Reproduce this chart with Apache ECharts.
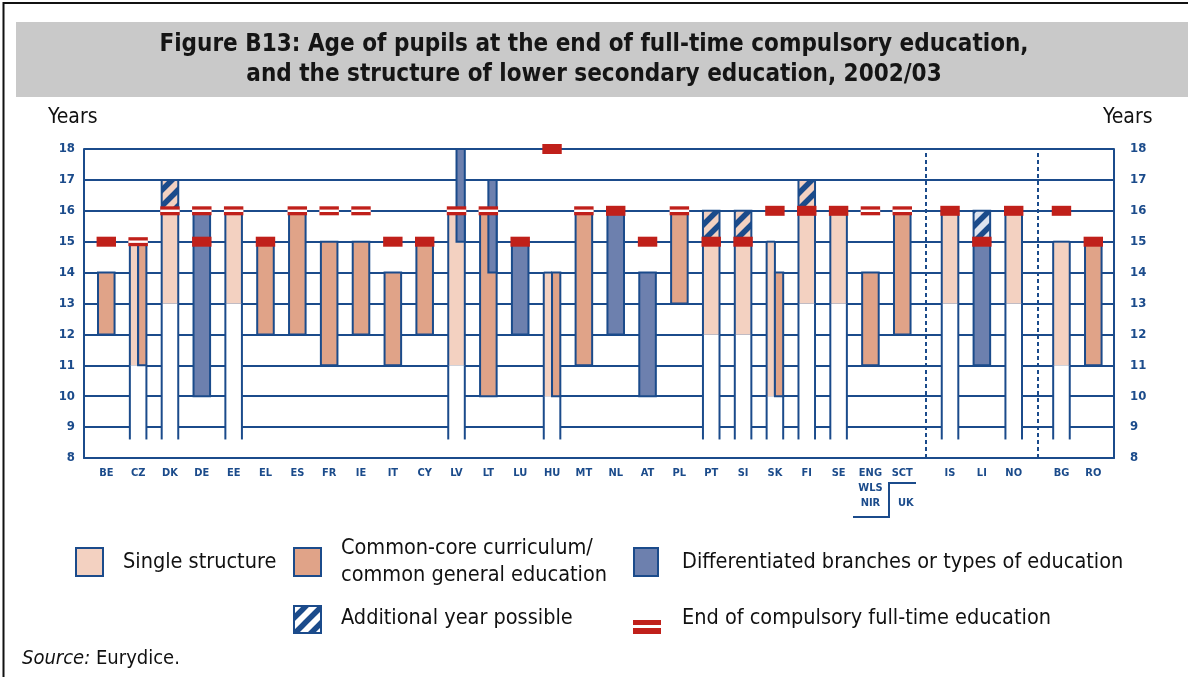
<!DOCTYPE html>
<html>
<head>
<meta charset="utf-8">
<title>Figure B13</title>
<script src="https://cdn.jsdelivr.net/npm/echarts@6.0.0/dist/echarts.min.js"></script>
<style>
  html, body { margin: 0; padding: 0; background: #fff; }
  #chart { width: 1188px; height: 677px; }
</style>
</head>
<body>
<div id="chart"></div>
<script>
// countries on the x axis (a dashed line follows each entry of groupEnds)
var countries = ['BE', 'CZ', 'DK', 'DE', 'EE', 'EL', 'ES', 'FR', 'IE', 'IT', 'CY', 'LV', 'LT', 'LU', 'HU',
  'MT', 'NL', 'AT', 'PL', 'PT', 'SI', 'SK', 'FI', 'SE', 'ENG/WLS/NIR', 'SCT', 'IS', 'LI', 'NO', 'BG', 'RO'];
var groupEnds = ['SCT', 'NO'];

// [from age, to age, track]  track: 'L' / 'R' = half column when two structures run side by side
var singleStructure = [null, [11, 15, 'L'], [13, 16], null, [13, 16], null, null, null, null, null, null,
  [11, 16], null, null, [10, 14, 'L'], null, null, null, null, [12, 15], [12, 15], [10, 15, 'L'],
  [13, 16], [13, 16], null, null, [13, 16], null, [13, 16], [11, 15], null];
var commonCore = [[12, 14], [11, 15, 'R'], null, null, null, [12, 15], [12, 16], [11, 15], [12, 15], [11, 14],
  [12, 15], null, [10, 16], null, [10, 14, 'R'], [11, 16], null, null, [13, 16], null, null, [10, 14, 'R'],
  null, null, [11, 14], [12, 16], null, null, null, null, [11, 15]];
var differentiated = [null, null, null, [10, 16], null, null, null, null, null, null, null,
  [15, 18, 'R'], [14, 17, 'R'], [12, 15], null, null, [12, 16], [10, 14], null, null, null, null,
  null, null, null, null, null, [11, 15], null, null, null];
var additionalYear = [null, null, [16, 17], null, null, null, null, null, null, null, null,
  null, null, null, null, null, null, null, null, [15, 16], [15, 16], null,
  [16, 17], null, null, null, null, [15, 16], null, null, null];

// end of compulsory full-time education (age), two marker styles
var endFilled = [15, null, null, 15, null, 15, null, null, null, 15, 15, null, null, 15, 18,
  null, 16, 15, null, 15, 15, 16, 16, 16, null, null, 16, 15, 16, 16, 15];
var endOpen = [null, 15, 16, 16, 16, null, 16, 16, 16, null, null, 16, 16, null, null,
  16, null, null, 16, null, null, null, null, null, 16, 16, null, null, null, null, null];

var NAVY = '#1b4b8b';
var PALE = '#f3d1c1';
var SALMON = '#e0a388';
var DIFF = '#6d80ae';
var RED = '#c0201a';
var FONT = "'Liberation Sans Narrow', 'DejaVu Sans Condensed', 'Liberation Sans', sans-serif";
var COL_BASE = 8.6;   // where the open columns stop above the axis
var COL_W = 0.52;     // column width in category units
var MARK_W = 0.61;

// x position of each country, with half a slot extra after each group
var positions = [];
var shift = 0;
countries.forEach(function (c, i) {
  positions.push(i + 1 + shift);
  if (groupEnds.indexOf(c) >= 0) shift += 0.5;
});
var separators = groupEnds.map(function (c) {
  var i = countries.indexOf(c);
  return (positions[i] + positions[i + 1]) / 2;
});

function sideOf(t) { return t === 'L' ? -1 : t === 'R' ? 1 : 0; }
function segData(list, extra) {
  var out = [];
  list.forEach(function (s, i) {
    if (s) out.push([positions[i], s[0], s[1], sideOf(s[2]), extra ? extra(i) : 0]);
  });
  return out;
}

function colBox(api, x, from, to, side) {
  var top = api.coord([x, to]);
  var bot = api.coord([x, from]);
  var w = api.size([COL_W, 0])[0];
  var x0 = top[0] - w / 2, width = w;
  if (side < 0) width = w / 2;
  if (side > 0) { x0 = top[0]; width = w / 2; }
  return { x: x0, y: top[1], width: width, height: bot[1] - top[1] };
}
function seg(x1, y1, x2, y2) {
  return { type: 'line', shape: { x1: x1, y1: y1, x2: x2, y2: y2 }, style: { stroke: NAVY, lineWidth: 2 } };
}

function hatch(bg) {
  var n = 16;
  var c = document.createElement('canvas');
  c.width = n; c.height = n;
  var g = c.getContext('2d');
  g.fillStyle = bg;
  g.fillRect(0, 0, n, n);
  g.strokeStyle = NAVY;
  g.lineWidth = 5.5;
  g.beginPath();
  g.moveTo(-n / 2, n / 2); g.lineTo(n / 2, -n / 2);
  g.moveTo(-n / 2, n * 1.5); g.lineTo(n * 1.5, -n / 2);
  g.moveTo(n / 2, n * 1.5); g.lineTo(n * 1.5, n / 2);
  g.stroke();
  return { image: c, repeat: 'repeat' };
}
var hatchPale = hatch(PALE);
var hatchDiff = hatch('#dde3ef');
var hatchWhite = hatch('#ffffff');

function renderSingle(params, api) {
  var x = api.value(0), from = api.value(1), to = api.value(2), side = api.value(3);
  var col = colBox(api, x, COL_BASE, from, 0);
  var s = colBox(api, x, from, to, side);
  return {
    type: 'group',
    children: [
      { type: 'rect', shape: col, style: { fill: '#fff' } },
      { type: 'rect', shape: s, style: { fill: PALE } },
      seg(col.x, col.y + col.height, col.x, col.y),
      seg(col.x + col.width, col.y + col.height, col.x + col.width, col.y),
      seg(s.x, s.y + s.height, s.x, s.y),
      seg(s.x + s.width, s.y + s.height, s.x + s.width, s.y),
      seg(s.x, s.y, s.x + s.width, s.y)
    ]
  };
}
function renderBox(fill) {
  return function (params, api) {
    var b = colBox(api, api.value(0), api.value(1), api.value(2), api.value(3));
    return { type: 'rect', shape: b, style: { fill: fill, stroke: NAVY, lineWidth: 2 } };
  };
}
function renderExtra(params, api) {
  var b = colBox(api, api.value(0), api.value(1), api.value(2), api.value(3));
  return { type: 'rect', shape: b, style: { fill: api.value(4) ? hatchDiff : hatchPale, stroke: NAVY, lineWidth: 2 } };
}
function renderMarker(params, api) {
  var p = api.coord([api.value(0), api.value(1)]);
  var w = api.size([MARK_W, 0])[0];
  if (api.value(2)) {
    return { type: 'rect', shape: { x: p[0] - w / 2, y: p[1] - 5, width: w, height: 10 }, style: { fill: RED } };
  }
  return {
    type: 'group',
    children: [
      { type: 'rect', shape: { x: p[0] - w / 2, y: p[1] - 4.5, width: w, height: 9 }, style: { fill: RED } },
      { type: 'rect', shape: { x: p[0] - w / 2, y: p[1] - 1.2, width: w, height: 2.4 }, style: { fill: '#fff' } }
    ]
  };
}

var markerData = [];
countries.forEach(function (c, i) {
  if (endOpen[i] != null) markerData.push([positions[i], endOpen[i], 0]);
  if (endFilled[i] != null) markerData.push([positions[i], endFilled[i], 1]);
});

var yAxisBase = {
  type: 'value', min: 8, max: 18, interval: 1,
  axisLine: { show: true, lineStyle: { color: NAVY, width: 2 } },
  axisTick: { show: false },
  axisLabel: { color: NAVY, fontWeight: 'bold', fontSize: 13, fontFamily: FONT }
};

var chart = echarts.init(document.getElementById('chart'), null, { renderer: 'canvas' });
chart.setOption({
  animation: false,
  backgroundColor: '#fff',
  title: {
    text: 'Figure B13: Age of pupils at the end of full-time compulsory education,\nand the structure of lower secondary education, 2002/03',
    left: 'center', top: 30, padding: 0,
    textStyle: { fontFamily: FONT, fontSize: 24, fontWeight: 'bold', color: '#151515', lineHeight: 30 }
  },
  grid: { left: 84, right: 74, top: 149, bottom: 219 },
  xAxis: {
    type: 'value', min: 0.3, max: 32.65,
    axisLine: { lineStyle: { color: NAVY, width: 2 } },
    axisTick: { show: false },
    splitLine: { show: false },
    axisLabel: {
      customValues: positions,
      formatter: function (v) {
        var i = positions.indexOf(v);
        return i < 0 ? '' : countries[i].split('/').join('\n');
      },
      color: NAVY, fontWeight: 'bold', fontSize: 11, fontFamily: FONT, margin: 8, lineHeight: 15
    }
  },
  yAxis: [
    Object.assign({}, yAxisBase, {
      position: 'left',
      splitLine: { show: true, lineStyle: { color: NAVY, width: 2 } },
      axisLabel: Object.assign({}, yAxisBase.axisLabel, { margin: 9 })
    }),
    Object.assign({}, yAxisBase, {
      position: 'right',
      splitLine: { show: false },
      axisLabel: Object.assign({}, yAxisBase.axisLabel, { margin: 16 })
    })
  ],
  series: [
    { type: 'custom', name: 'Single structure', renderItem: renderSingle, data: segData(singleStructure), encode: { x: 0, y: [1, 2] } },
    { type: 'custom', name: 'Common-core curriculum/common general education', renderItem: renderBox(SALMON), data: segData(commonCore), encode: { x: 0, y: [1, 2] } },
    { type: 'custom', name: 'Differentiated branches or types of education', renderItem: renderBox(DIFF), data: segData(differentiated), encode: { x: 0, y: [1, 2] } },
    {
      type: 'custom', name: 'Additional year possible', renderItem: renderExtra,
      data: segData(additionalYear, function (i) { return differentiated[i] ? 1 : 0; }), encode: { x: 0, y: [1, 2] }
    },
    {
      type: 'custom', name: 'End of compulsory full-time education', renderItem: renderMarker,
      data: markerData, encode: { x: 0, y: 1 },
      markLine: {
        silent: true, symbol: 'none', label: { show: false },
        lineStyle: { color: NAVY, type: [4, 3], width: 2 },
        data: separators.map(function (v) { return { xAxis: v }; })
      }
    }
  ],
  graphic: [
    { type: 'rect', z: -10, shape: { x: 3.5, y: 3, width: 1200, height: 700 }, style: { fill: 'none', stroke: '#111', lineWidth: 2 } },
    { type: 'rect', z: -5, shape: { x: 16, y: 22, width: 1180, height: 75 }, style: { fill: '#c9c9c9' } },
    { type: 'text', x: 48, y: 118, style: { text: 'Years', fontFamily: FONT, fontSize: 21, fill: '#111', verticalAlign: 'middle' } },
    { type: 'text', x: 1103, y: 118, style: { text: 'Years', fontFamily: FONT, fontSize: 21, fill: '#111', verticalAlign: 'middle' } },
    // UK bracket under the axis labels
    { type: 'polyline', shape: { points: [[853, 517], [889, 517], [889, 483], [916, 483]] }, style: { fill: 'none', stroke: NAVY, lineWidth: 2 } },
    { type: 'text', x: 898, y: 503, style: { text: 'UK', fontFamily: FONT, fontSize: 11, fontWeight: 'bold', fill: NAVY, verticalAlign: 'middle' } },
    // key
    { type: 'rect', shape: { x: 76, y: 548, width: 27, height: 28 }, style: { fill: PALE, stroke: NAVY, lineWidth: 2 } },
    { type: 'text', x: 123, y: 562, style: { text: 'Single structure', fontFamily: FONT, fontSize: 21.5, fill: '#111', verticalAlign: 'middle' } },
    { type: 'rect', shape: { x: 294, y: 548, width: 27, height: 28 }, style: { fill: SALMON, stroke: NAVY, lineWidth: 2 } },
    { type: 'text', x: 341, y: 562, style: { text: 'Common-core curriculum/\ncommon general education', fontFamily: FONT, fontSize: 21.5, lineHeight: 27, fill: '#111', verticalAlign: 'middle' } },
    { type: 'rect', shape: { x: 634, y: 548, width: 24, height: 28 }, style: { fill: DIFF, stroke: NAVY, lineWidth: 2 } },
    { type: 'text', x: 682, y: 562, style: { text: 'Differentiated branches or types of education', fontFamily: FONT, fontSize: 21.5, fill: '#111', verticalAlign: 'middle' } },
    { type: 'rect', shape: { x: 294, y: 606, width: 27, height: 27 }, style: { fill: hatchWhite, stroke: NAVY, lineWidth: 2 } },
    { type: 'text', x: 341, y: 618, style: { text: 'Additional year possible', fontFamily: FONT, fontSize: 21.5, fill: '#111', verticalAlign: 'middle' } },
    { type: 'rect', shape: { x: 633, y: 620, width: 28, height: 5 }, style: { fill: RED } },
    { type: 'rect', shape: { x: 633, y: 628, width: 28, height: 6 }, style: { fill: RED } },
    { type: 'text', x: 682, y: 618, style: { text: 'End of compulsory full-time education', fontFamily: FONT, fontSize: 21.5, fill: '#111', verticalAlign: 'middle' } },
    {
      type: 'text', x: 22, y: 659,
      style: {
        text: '{i|Source:} Eurydice.', fontFamily: FONT, fontSize: 20, fill: '#111', verticalAlign: 'middle',
        rich: { i: { fontStyle: 'italic', fontFamily: FONT, fontSize: 20, fill: '#111' } }
      }
    }
  ]
});
</script>
</body>
</html>
